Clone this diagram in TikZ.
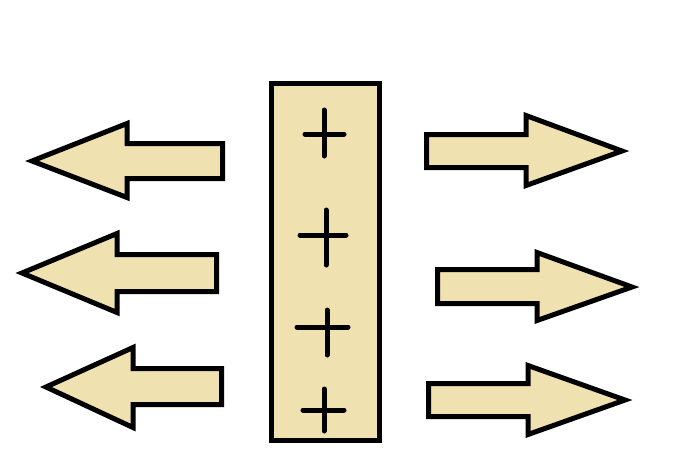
\documentclass[tikz,border=0pt]{standalone}
\definecolor{tanfill}{RGB}{240,226,176}
\tikzset{
  tanshape/.style={draw=black, fill=tanfill, line width=5pt, line join=miter},
  plusline/.style={draw=black, line width=5pt, line cap=round},
}
\begin{document}
\begin{tikzpicture}[x=1pt,y=-1pt]
\useasboundingbox (0,0) rectangle (677,467);
% central bar
\draw[tanshape] (271.5,83.5) rectangle (379.5,440.5);
% plus signs
\draw[plusline] (305,134) -- (344,134) (324,110) -- (324,156);
\draw[plusline] (300,235) -- (346,235) (326,210) -- (326,265);
\draw[plusline] (297,327) -- (348,327) (327,310) -- (327,355);
\draw[plusline] (303,410) -- (344,410) (324,389) -- (324,431);
% left arrows
\draw[tanshape] (32,161) -- (127,123.5) -- (127,143.5) -- (222.5,143.5) -- (222.5,178.5) -- (127,178.5) -- (127,197.5) -- cycle;
\draw[tanshape] (22,273) -- (117,233.5) -- (117,254.5) -- (216.5,254.5) -- (216.5,291.5) -- (117,291.5) -- (117,312.5) -- cycle;
\draw[tanshape] (46,387) -- (133,347.5) -- (133,368.5) -- (221.5,368.5) -- (221.5,404.5) -- (133,404.5) -- (133,427.5) -- cycle;
% right arrows
\draw[tanshape] (622,151) -- (526,115.5) -- (526,134.5) -- (426.5,134.5) -- (426.5,167.5) -- (526,167.5) -- (526,185.5) -- cycle;
\draw[tanshape] (632,287) -- (537,252.5) -- (537,269.5) -- (437.5,269.5) -- (437.5,303.5) -- (537,303.5) -- (537,320.5) -- cycle;
\draw[tanshape] (625,400) -- (528,365.5) -- (528,383.5) -- (428.5,383.5) -- (428.5,416.5) -- (528,416.5) -- (528,434.5) -- cycle;
\end{tikzpicture}
\end{document}
